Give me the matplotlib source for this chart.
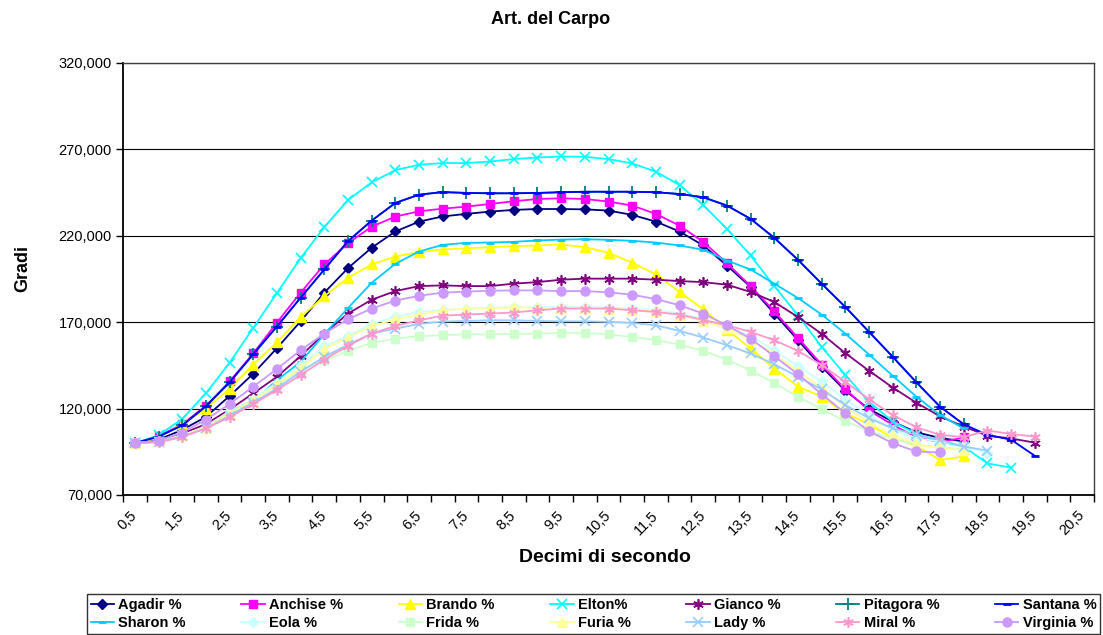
import matplotlib
matplotlib.use("Agg")
import matplotlib.pyplot as plt
import numpy as np

plt.rcParams['font.family'] = ['Liberation Sans', 'DejaVu Sans']

# categories: 0,5 .. 20,5 step 0,5 (tenths of second)
categories = [0.5 + 0.5 * i for i in range(41)]
tick_labels = [f"{v:.1f}".replace('.', ',') for v in categories[::2]]
y_ticks = [70, 120, 170, 220, 270, 320]

agadir = [100, 102, 107.7, 115.2, 127.3, 140.2, 155, 170.5, 187.1, 201.3, 213.1, 222.5, 228.2, 231.2,
          232.7, 234, 235, 235.5, 235.5, 235.3, 234.6, 232.1, 228.2, 222.5, 214.4, 202.8, 190.4, 175,
          159.6, 144.2, 130.4, 119.7, 112.5, 106.3, 103, 101]
anchise = [100, 104, 111, 121.6, 135.7, 151.9, 169.8, 187.1, 203.4, 215.7, 225.3, 231.1, 234.2, 235.7,
           236.9, 238.4, 240, 241.3, 241.7, 241.3, 239.8, 237.5, 232.7, 225.9, 216.5, 204.2, 190.9, 176.3,
           160.9, 145.5, 131.2, 118.9, 110.6, 103.5, 100.5, 103.3]
brando = [100, 103, 111, 120, 131.5, 145.5, 158.3, 173, 185, 195.7, 203.4, 208, 210.5, 212.1,
          212.8, 213.4, 214, 214.4, 215, 213.4, 210.2, 204.4, 197.7, 187.5, 177.5, 165.7, 154.8, 143.2,
          132.7, 127, 117.3, 111, 103, 98.5, 90.2, 92.3]
elton = [100, 104.5, 114, 128.8, 146.5, 166.7, 186.9, 207.1, 225, 240.7, 250.9, 258, 261.1, 262.1,
         262.1, 263, 264.4, 265.3, 265.9, 265.7, 264.4, 261.9, 257.1, 249.4, 237.8, 224, 208.6, 190.9,
         174, 155.7, 139.5, 124, 112.5, 105.5, 101, 98, 88.3, 85.8]
gianco = [100, 101, 105.5, 111, 119.5, 128.8, 138.4, 150.4, 163.4, 175, 183, 188, 190.9, 191.3,
          190.9, 190.9, 192.3, 193.2, 194.6, 195.2, 195.2, 195.2, 194.6, 193.8, 193.2, 191.7, 187.5, 181.7,
          173, 163.3, 152.1, 141.9, 132.2, 123.4, 115.5, 109.6, 104.3, 102.7, 100.3]
santana = [100, 103.8, 110.3, 121.3, 135.2, 151.5, 167.5, 184.2, 200.5, 216.9, 228.8, 239, 243.8, 245.3,
           244.8, 244.6, 244.6, 244.8, 245.2, 245.5, 245.5, 245.5, 245.2, 244.2, 242.3, 237.5, 229.8, 218.8,
           206.1, 192.3, 178.8, 164.4, 150, 135.2, 121.1, 110.9, 104.8, 102, 92.7]
pitagora = [100, 103.8, 110.3, 121.3, 135.2, 151.5, 167.5, 184.2, 200.5, 216.9, 228.8, 239, 243.8, 245.3,
            244.8, 244.6, 244.6, 244.8, 245.2, 245.5, 245.5, 245.5, 245.2, 244.2, 242.3, 237.5, 229.8, 218.8,
            206.1, 192.3, 178.8, 164.4, 150, 135.2, 121.1, 110.9]
sharon = [100, 101, 104.2, 108.6, 116.3, 124, 136.5, 147, 163, 178.2, 192.8, 203.8, 210.9, 214.8,
          215.9, 216.1, 216.5, 217.3, 217.8, 218, 217.7, 217.1, 216.1, 214.4, 211.9, 205.7, 200.5, 192.3,
          184, 174.4, 163.4, 151.3, 139, 126.9, 116.3, 108.5]
eola = [100, 101, 104.5, 109.5, 118, 125.5, 135, 145.2, 156, 162, 169.2, 173, 175.9, 177.2,
        177.9, 178.4, 178.8, 178.6, 178.8, 178.8, 178.4, 177.9, 176.9, 175, 172, 167.5, 161.9, 153.8,
        144.6, 135.8, 125.2, 116.3, 107.7, 102.9, 100.9, 99, 94.2]
frida = [100, 101, 104.5, 109.5, 118.5, 125, 133.5, 142.5, 148, 153.4, 158, 160.5, 161.9, 162.5,
         163, 163, 163.2, 163.4, 163.8, 163.8, 162.9, 161.5, 159.6, 157.1, 153.4, 148.4, 142, 134.8,
         126.9, 119.6, 112.7, 107, 102.5, 99, 97.5, 96.5]
furia = [100, 101, 104.5, 109, 117, 124.5, 134, 143.5, 154.5, 161, 167.8, 171.6, 174.4, 176.9,
         177.8, 178.2, 178.6, 178.2, 178.2, 178.2, 177.8, 177.2, 176.3, 174.2, 170.8, 166.5, 160, 151.5,
         141.5, 132, 121, 112, 104.5, 99.5, 97, 96]
lady = [100, 100.8, 104, 108.5, 116, 123.5, 131.7, 141.3, 150, 157, 163.4, 166.3, 169, 170.4,
        170.7, 171.1, 171.1, 170.7, 170.5, 170.5, 170.2, 169.6, 168.2, 165, 161.1, 156.7, 151.9, 145.7,
        138.4, 131.1, 122.1, 114.4, 108.6, 104.8, 101.9, 98, 95.7]
miral = [100, 100.5, 103.5, 108.6, 115, 122.7, 130.8, 139.4, 148.4, 156.3, 163.4, 167.8, 171.1, 173.8,
         174.4, 175, 175.6, 176.9, 177.9, 177.9, 177.9, 176.9, 175.9, 174.4, 171.3, 168.2, 164.4, 159.6,
         153.4, 145.2, 135.5, 125.4, 116.3, 109.2, 104.8, 103.5, 107.3, 105.3, 103.8]
virginia = [100, 101.5, 106.1, 113.6, 122.7, 132.7, 142.9, 153.8, 163.4, 171.7, 177.9, 182.5, 185.3, 187.1,
            187.7, 188.2, 188.4, 188.4, 188, 188, 187.3, 185.9, 183.4, 179.8, 175, 168.2, 160.5, 150.3,
            139.9, 128.4, 117.3, 106.9, 100, 95.2, 94.6]

series_names = ["Agadir %", "Anchise %", "Brando %", "Elton%", "Gianco %", "Pitagora %", "Santana %",
                "Sharon %", "Eola %", "Frida %", "Furia %", "Lady %", "Miral %", "Virginia %"]
series_values = [agadir, anchise, brando, elton, gianco, pitagora, santana,
                 sharon, eola, frida, furia, lady, miral, virginia]

styles = [
    dict(color="#000080", marker="D", ms=5.5),
    dict(color="#FF00FF", marker="s", ms=6),
    dict(color="#FFFF00", marker="^", ms=6.5),
    dict(color="#00FFFF", marker="x", ms=6.5, mew=1.2),
    dict(color="#800080", marker=(6, 2, 0), ms=7.5, mew=1.2),
    dict(color="#008080", marker="+", ms=8, mew=1.3),
    dict(color="#0000FF", marker="_", ms=6, mew=2),
    dict(color="#00CCFF", marker="_", ms=6, mew=2),
    dict(color="#CCFFFF", marker="D", ms=5.5),
    dict(color="#CCFFCC", marker="s", ms=6),
    dict(color="#FFFF99", marker="^", ms=6.5),
    dict(color="#99CCFF", marker="x", ms=6.5, mew=1.2),
    dict(color="#FF99CC", marker=(6, 2, 0), ms=7.5, mew=1.2),
    dict(color="#CC99FF", marker="o", ms=6.5),
]

W, H = 1103, 635
fig = plt.figure(figsize=(W / 100, H / 100), dpi=100)
ax = fig.add_axes([123 / W, 1 - 495 / H, (1094 - 123) / W, (495 - 63) / H])

handles = []
for name, vals, st in zip(series_names, series_values, styles):
    x = np.arange(len(vals))
    (ln,) = ax.plot(x, vals, color=st["color"], lw=1.3, marker=st["marker"],
                    markersize=st["ms"], markerfacecolor=st["color"],
                    markeredgecolor=st["color"], markeredgewidth=st.get("mew", 1.0),
                    label=name)
    handles.append(ln)

ax.set_xlim(-0.5, len(categories) - 0.5)
ax.set_ylim(70, 320)

# category boundaries as tick marks, labels on every other category
ax.set_xticks(np.arange(-0.5, len(categories), 1.0))
ax.set_xticklabels([])
ax.set_xticks(np.arange(0, len(categories), 2), minor=True)
ax.set_xticklabels(tick_labels, minor=True, rotation=45, ha='right', va='center',
                   rotation_mode='anchor', fontsize=10.5)
ax.tick_params(axis='x', which='major', length=5, width=1, direction='out', color='black')
ax.tick_params(axis='x', which='minor', length=0, pad=13)

ax.set_yticks(y_ticks)
ax.set_yticklabels([f"{v:.3f}".replace('.', ',') for v in y_ticks], fontsize=10.5)
ax.tick_params(axis='y', length=5, width=1, direction='out', color='black', pad=3)

ax.grid(axis='y', color='black', lw=0.8)
ax.set_axisbelow(True)
for side in ['left', 'bottom']:
    ax.spines[side].set_linewidth(1.3)
    ax.spines[side].set_color('black')
for side in ['top', 'right']:
    ax.spines[side].set_linewidth(1.0)
    ax.spines[side].set_color('#404040')

fig.text(551 / W, 1 - 20 / H, "Art. del Carpo", ha='center', va='center',
         fontsize=13, fontweight='bold')
fig.text(605 / W, 1 - 557 / H, "Decimi di secondo", ha='center', va='center',
         fontsize=14, fontweight='bold')
fig.text(23 / W, 1 - 268 / H, "Gradi", ha='center', va='center', rotation=90,
         fontsize=13, fontweight='bold')

# legend filled row by row (matplotlib fills column-wise, so interleave)
ncol = 7
order = []
for c in range(ncol):
    order += [c, c + ncol]
leg = fig.legend(handles=[handles[i] for i in order], ncol=ncol, loc='lower left',
                 bbox_to_anchor=(87 / W, 1 / H, (1100 - 87) / W, (634 - 586) / H),
                 mode='expand', frameon=True, fancybox=False, edgecolor='black',
                 prop=dict(weight='bold', size=10.5), handlelength=1.6, handletextpad=0.3,
                 borderpad=0.25, labelspacing=0.3, columnspacing=0.8, borderaxespad=0)
leg.get_frame().set_linewidth(1.0)

fig.savefig("out.png", dpi=100)
